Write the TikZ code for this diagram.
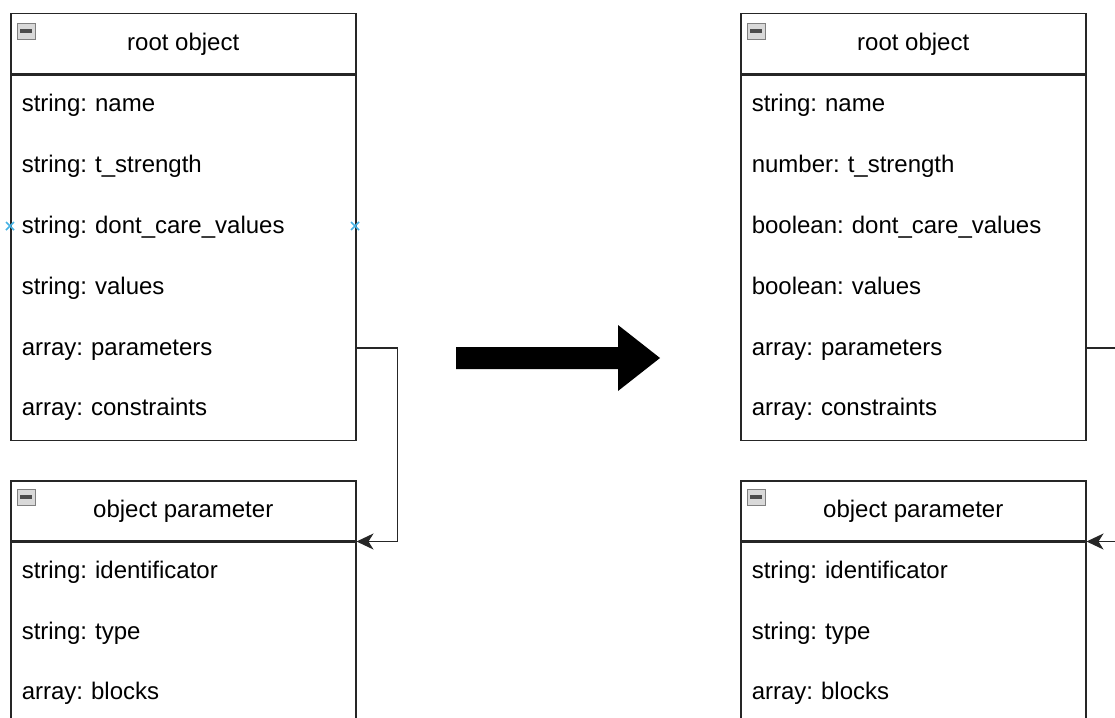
\documentclass[tikz,border=0pt]{standalone}
\usepackage{fontspec}
\setmainfont{Liberation Sans}
\usetikzlibrary{arrows.meta}
\definecolor{hintblue}{RGB}{70,178,228}
\frenchspacing

\begin{document}
\begin{tikzpicture}[x=1pt,y=-1pt,
  font=\fontsize{24}{28}\selectfont,
  line width=1.5pt,
  title/.style={draw=black!85,anchor=north west,minimum width=345pt,minimum height=60pt,
    text height=18pt,text depth=4pt,inner sep=0pt},
  body/.style={draw=black!85,anchor=north west,minimum width=345pt,inner sep=0pt},
  field/.style={anchor=west,text width=323pt,align=left,inner xsep=11pt,inner ysep=0pt,
    text height=18pt,text depth=4pt},
  minus/.style={draw=gray,fill=gray!30,line width=0.8pt,minimum width=18pt,minimum height=16pt,inner sep=0pt,
    path picture={\fill[black!70] ([xshift=3pt,yshift=-1.6pt]path picture bounding box.west)
      rectangle ([xshift=-3pt,yshift=1.6pt]path picture bounding box.east);}},
  link/.style={draw=black!85,-{Stealth[length=17pt,width=16pt,inset=5pt]}},
  hint/.style={draw=hintblue,line width=1.6pt}]

\useasboundingbox (0,0) rectangle (1115,717);
\clip (0,0) rectangle (1115,717);

%left: root object
\node[title] (lroot) at (10,13) {root object};
\node[body,minimum height=365pt] (lrootbody) at (lroot.south west) {};
\node[minus] (lrootmin) at (26,31) {};
\foreach \y/\ftext [count=\i] in {104/string: name, 165/string: t\_strength,
    226/string: dont\_care\_values, 287/string: values,
    348/array: parameters, 408/array: constraints}
  \node[field] (lroot\i) at (10,\y) {\ftext};

%left: object parameter
\node[title] (lpar) at (10,480) {object parameter};
\node[body,minimum height=200pt] (lparbody) at (lpar.south west) {};
\node[minus] (lparmin) at (26,497) {};
\foreach \y/\ftext [count=\i] in {571/string: identificator, 632/string: type, 692/array: blocks}
  \node[field] (lpar\i) at (10,\y) {\ftext};

%hover marks
\foreach \x in {10,355}
  \draw[hint] (\x-4,222) -- (\x+4,230) (\x-4,230) -- (\x+4,222);

\draw[link] (lroot5.east) -- ++(41,0) |- (lpar.south east);

%big arrow
\fill (456,347) -- (618,347) -- (618,325) -- (660,358) -- (618,391) -- (618,369) -- (456,369) -- cycle;

%right: root object
\node[title] (rroot) at (740,13) {root object};
\node[body,minimum height=365pt] (rrootbody) at (rroot.south west) {};
\node[minus] (rrootmin) at (756,31) {};
\foreach \y/\ftext [count=\i] in {104/string: name, 165/number: t\_strength,
    226/boolean: dont\_care\_values, 287/boolean: values,
    348/array: parameters, 408/array: constraints}
  \node[field] (rroot\i) at (740,\y) {\ftext};

%right: object parameter
\node[title] (rpar) at (740,480) {object parameter};
\node[body,minimum height=200pt] (rparbody) at (rpar.south west) {};
\node[minus] (rparmin) at (756,497) {};
\foreach \y/\ftext [count=\i] in {571/string: identificator, 632/string: type, 692/array: blocks}
  \node[field] (rpar\i) at (740,\y) {\ftext};

\coordinate (rbend) at (1130,400);
\draw[link] (rroot5.east) -- (rroot5.east -| rbend) -- (rbend |- rpar.south east) -- (rpar.south east);

\end{tikzpicture}
\end{document}
